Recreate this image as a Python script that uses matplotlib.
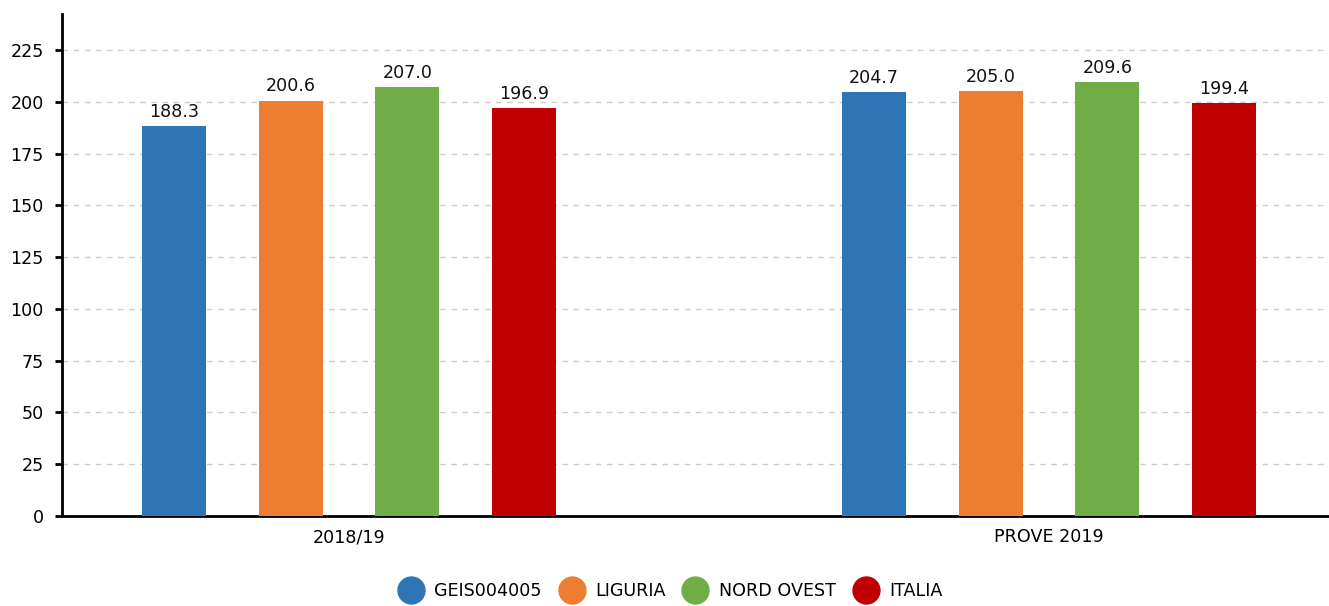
import matplotlib
matplotlib.use("Agg")
import matplotlib.pyplot as plt
from matplotlib.lines import Line2D
import numpy as np

# data
categories = ["2018/19", "PROVE 2019"]
series = ["GEIS004005", "LIGURIA", "NORD OVEST", "ITALIA"]
values = {
    "GEIS004005": [188.3, 204.7],
    "LIGURIA": [200.6, 205.0],
    "NORD OVEST": [207.0, 209.6],
    "ITALIA": [196.9, 199.4],
}
colors = ["#2E75B6", "#ED7D31", "#70AD47", "#C00000"]
yticks = [0, 25, 50, 75, 100, 125, 150, 175, 200, 225]

plt.rcParams["font.family"] = "DejaVu Sans"
fs = 12.6

fig = plt.figure(figsize=(13.29, 6.06), dpi=100)
ax = fig.add_axes([62 / 1329, 1 - 516 / 606, 1 - 62 / 1329, (516 - 14) / 606])

x = np.arange(len(categories))
step = 0.1667
width = 0.0914
offsets = (np.arange(len(series)) - 1.5) * step

for i, name in enumerate(series):
    bars = ax.bar(x + offsets[i], values[name], width, color=colors[i], zorder=3)
    for b, v in zip(bars, values[name]):
        ax.text(b.get_x() + b.get_width() / 2, v + 2.5, f"{v:.1f}",
                ha="center", va="bottom", fontsize=fs, color="#111111", zorder=4)

ax.set_xlim(-0.41, 1.40)
ax.set_ylim(0, 242.4)
ax.set_yticks(yticks)
ax.set_xticks(x)
ax.set_xticklabels(categories, fontsize=fs)
ax.tick_params(axis="x", length=0, pad=9)
ax.tick_params(axis="y", length=5, width=2, labelsize=fs, pad=8, color="black")
ax.yaxis.grid(True, linestyle=(0, (4, 4)), color="#cccccc", linewidth=1, zorder=0)

for s in ["top", "right"]:
    ax.spines[s].set_visible(False)
ax.spines["left"].set_linewidth(2)
ax.spines["bottom"].set_linewidth(2)

# round markers in the legend
handles = [Line2D([], [], marker="o", linestyle="", markersize=19.4, color=c) for c in colors]
ax.legend(handles, series, loc="center", bbox_to_anchor=(0.48, -0.149), ncol=4,
          frameon=False, fontsize=fs, handlelength=1.5, columnspacing=0.95,
          handletextpad=0.6)

fig.savefig("out.png", dpi=100)
